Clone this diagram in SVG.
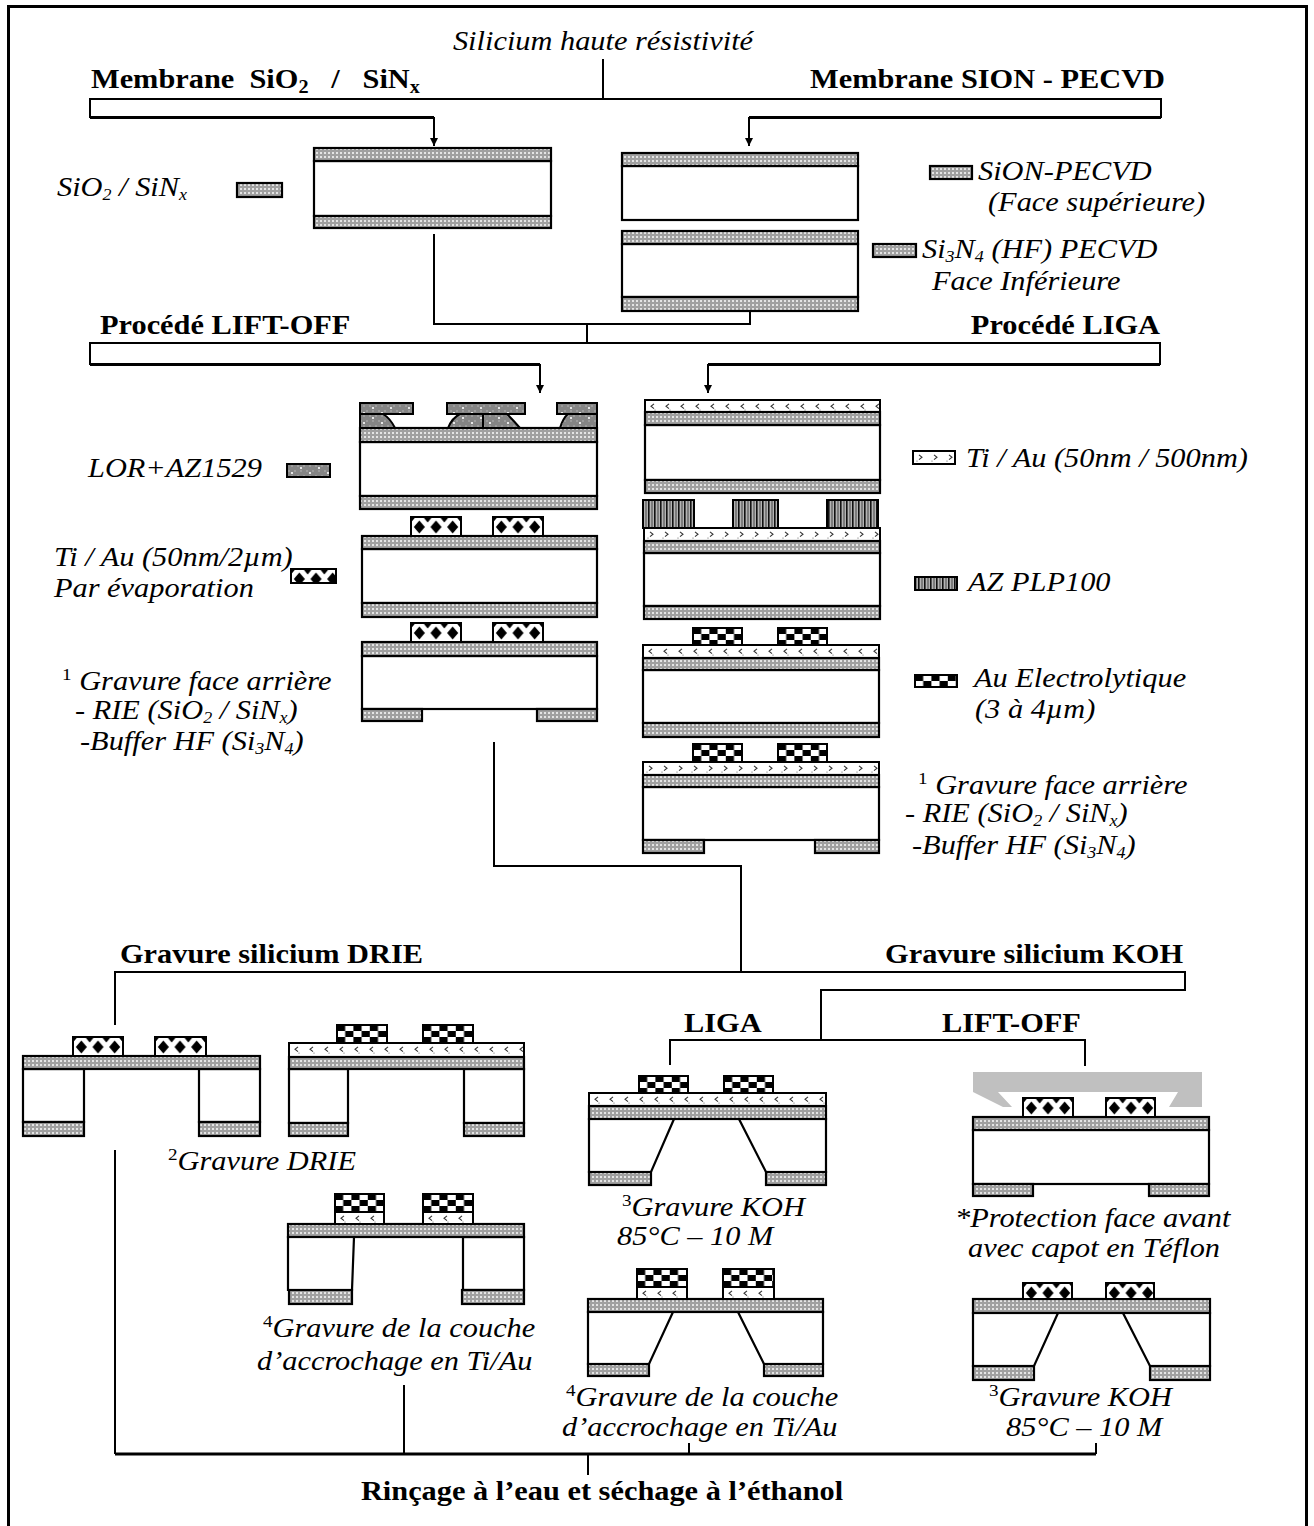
<svg xmlns="http://www.w3.org/2000/svg" width="1314" height="1526" viewBox="0 0 1314 1526">
<defs>
<pattern id="pOx" patternUnits="userSpaceOnUse" width="4" height="4"><rect width="4" height="4" fill="#a0a0a0"/><rect width="2" height="2" fill="#e4e4e4"/></pattern>
<pattern id="pLor" patternUnits="userSpaceOnUse" width="18" height="10"><rect width="18" height="10" fill="#858585"/><rect x="0" y="0" width="2" height="2" fill="#9c9c9c"/><rect x="6" y="0" width="2" height="2" fill="#9c9c9c"/><rect x="12" y="0" width="2" height="2" fill="#9c9c9c"/><rect x="3" y="5" width="2" height="2" fill="#9c9c9c"/><rect x="9" y="5" width="2" height="2" fill="#9c9c9c"/><rect x="15" y="5" width="2" height="2" fill="#9c9c9c"/><circle cx="4" cy="3" r="1.1" fill="#fff"/><circle cx="13" cy="8" r="1.1" fill="#fff"/></pattern>
<pattern id="pTiL" patternUnits="userSpaceOnUse" width="15" height="13"><rect width="15" height="13" fill="#fff"/><path d="M9,3.8 L6,6.3 L9,8.6" fill="none" stroke="#333" stroke-width="1.1"/><circle cx="10" cy="10" r="0.6" fill="#555"/></pattern>
<pattern id="pTiR" patternUnits="userSpaceOnUse" width="15" height="13"><rect width="15" height="13" fill="#fff"/><path d="M6,3.8 L9,6.3 L6,8.6" fill="none" stroke="#333" stroke-width="1.1"/><circle cx="4" cy="10" r="0.6" fill="#555"/></pattern>
<pattern id="pPlp" patternUnits="userSpaceOnUse" width="6" height="10"><rect width="6" height="10" fill="#b4b4b4"/><rect width="1.6" height="10" fill="#111"/><rect x="3.5" width="1" height="10" fill="#444"/></pattern>
<pattern id="pChk" patternUnits="userSpaceOnUse" width="16.4" height="12"><rect width="16.4" height="12" fill="#fff"/><rect width="8.2" height="6" fill="#000"/><rect x="8.2" y="6" width="8.2" height="6" fill="#000"/></pattern>
<pattern id="pDia" patternUnits="userSpaceOnUse" width="16.67" height="19"><rect width="16.67" height="19" fill="#fff"/><path d="M8.33,3.5 L13.9,10 L8.33,16.5 L2.8,10 Z" fill="#000"/><path d="M0,0 L4.5,0 L0,5.5 Z M16.67,0 L12.17,0 L16.67,5.5 Z" fill="#000"/></pattern>
<marker id="ar" viewBox="0 0 10 10" refX="10" refY="5" markerWidth="8" markerHeight="8" markerUnits="userSpaceOnUse" orient="auto"><path d="M0,0 L10,5 L0,10 Z" fill="#000"/></marker>
</defs>
<style>
.b{fill:#fff;stroke:#000;stroke-width:2.2}
.ox{fill:url(#pOx);stroke:#000;stroke-width:2.2}
.lor{fill:url(#pLor);stroke:#000;stroke-width:2}
.til{fill:url(#pTiL);stroke:#000;stroke-width:2}
.tir{fill:url(#pTiR);stroke:#000;stroke-width:2}
.plp{fill:url(#pPlp);stroke:#000;stroke-width:2}
.chk{fill:url(#pChk);stroke:#000;stroke-width:2}
.dia{fill:url(#pDia);stroke:#000;stroke-width:2}
.cap{fill:#c0c0c0}
.ln{fill:none;stroke:#000;stroke-width:2}
.lt{fill:none;stroke:#000;stroke-width:3}
.t{font-family:"Liberation Serif","Times New Roman",serif;font-size:27px;fill:#000}
.bd{font-weight:bold}
.it{font-style:italic}
.sup{font-style:normal;font-size:17px}
.sub{font-size:16px}
</style>
<rect x="8.5" y="6.5" width="1298" height="1540" fill="none" stroke="#000" stroke-width="3"/>

<g id="connectors">
<path class="ln" d="M603,59 V99"/>
<path class="ln" d="M434,117 H90 V99 H1161 V117 H749"/>
<path class="lt" d="M90,117.5 H434 M749,117.5 H1161"/>
<path class="ln" d="M434,117 V146" marker-end="url(#ar)"/>
<path class="ln" d="M749,117 V146" marker-end="url(#ar)"/>
<path class="ln" d="M434,234 V324 H750 V311"/>
<path class="ln" d="M587,324 V343"/>
<path class="ln" d="M540,364 H90 V343 H1160 V364 H708"/>
<path class="lt" d="M90,364.5 H540 M708,364.5 H1160"/>
<path class="ln" d="M540,364 V393" marker-end="url(#ar)"/>
<path class="ln" d="M708,364 V393" marker-end="url(#ar)"/>
<path class="ln" d="M494,742 V866 H741 V972"/>
<path class="ln" d="M115,1025 V972 H1185 V990 H821 V1040"/>
<path class="ln" d="M670,1065 V1040 H1085 V1066"/>
<path class="ln" d="M115,1150 V1454 M1096,1443 V1454 M404,1385 V1454 M689,1443 V1454 M588,1454 V1475"/>
<path class="lt" d="M115,1454 H1096"/>
</g>

<g id="top-labels">
<text class="t it" text-anchor="middle" transform="matrix(1.125 0 0 1 603 50)">Silicium haute résistivité</text>
<text class="t bd" xml:space="preserve" transform="matrix(1.125 0 0 1 91 88)">Membrane  SiO<tspan font-size="18" dy="5">2</tspan><tspan dy="-5">   /   SiN</tspan><tspan font-size="18" dy="5">x</tspan></text>
<text class="t bd" text-anchor="end" transform="matrix(1.125 0 0 1 1165 88)">Membrane SION - PECVD</text>
<text class="t bd" transform="matrix(1.125 0 0 1 100 334)">Procédé LIFT-OFF</text>
<text class="t bd" text-anchor="end" transform="matrix(1.125 0 0 1 1160 334)">Procédé LIGA</text>
</g>

<g id="wafer-sio2">
<rect class="b" x="314" y="161" width="237" height="55"/>
<rect class="ox" x="314" y="148" width="237" height="13"/>
<rect class="ox" x="314" y="216" width="237" height="12"/>
</g>
<g id="wafer-sion">
<rect class="b" x="622" y="166" width="236" height="54"/>
<rect class="ox" x="622" y="153" width="236" height="13"/>
</g>
<g id="wafer-si3n4">
<rect class="b" x="622" y="244" width="236" height="53"/>
<rect class="ox" x="622" y="231" width="236" height="13"/>
<rect class="ox" x="622" y="297" width="236" height="14"/>
</g>

<g id="legend-sio2">
<rect class="ox" x="237" y="183" width="45" height="14"/>
<text class="t it" xml:space="preserve" transform="matrix(1.125 0 0 1 57 196)">SiO<tspan class="sub" dy="4">2</tspan><tspan dy="-4"> / SiN</tspan><tspan class="sub" dy="4">x</tspan></text>
</g>
<g id="legend-sion">
<rect class="ox" x="930" y="166" width="42" height="13"/>
<text class="t it" transform="matrix(1.125 0 0 1 978 180)">SiON-PECVD</text>
<text class="t it" transform="matrix(1.125 0 0 1 988 211)">(Face supérieure)</text>
</g>
<g id="legend-si3n4">
<rect class="ox" x="873" y="244" width="43" height="13"/>
<text class="t it" transform="matrix(1.125 0 0 1 922 258)">Si<tspan class="sub" dy="4">3</tspan><tspan dy="-4">N</tspan><tspan class="sub" dy="4">4</tspan><tspan dy="-4"> (HF) PECVD</tspan></text>
<text class="t it" transform="matrix(1.125 0 0 1 932 290)">Face Inférieure</text>
</g>

<g id="liftoff-step1">
<rect class="b" x="360" y="442" width="237" height="54"/>
<rect class="ox" x="360" y="428" width="237" height="14"/>
<rect class="ox" x="360" y="496" width="237" height="13"/>
<path class="lor" d="M360,414 H383 Q390,418 395,428 H360 Z"/>
<path class="lor" d="M460,414 H483 V428 H448 Q452,418 460,414 Z"/>
<path class="lor" d="M483,414 H507 Q513,420 520,428 H483 Z"/>
<path class="lor" d="M568,414 H597 V428 H560 Q563,418 568,414 Z"/>
<rect class="lor" x="360" y="403" width="53" height="11"/>
<rect class="lor" x="447" y="403" width="78" height="11"/>
<rect class="lor" x="557" y="403" width="40" height="11"/>
</g>
<g id="legend-lor">
<rect class="lor" x="287" y="464" width="43" height="13"/>
<text class="t it" transform="matrix(1.125 0 0 1 88 477)">LOR+AZ1529</text>
</g>

<g id="liftoff-step2">
<rect class="b" x="362" y="549" width="235" height="54"/>
<rect class="ox" x="362" y="536" width="235" height="13"/>
<rect class="ox" x="362" y="603" width="235" height="14"/>
<rect class="dia" transform="translate(411,517)" width="50" height="19"/>
<rect class="dia" transform="translate(493,517)" width="50" height="19"/>
</g>
<g id="legend-evap">
<rect class="dia" transform="translate(291,569)" width="45" height="14"/>
<text class="t it" transform="matrix(1.125 0 0 1 54 566)">Ti / Au (50nm/2µm)</text>
<text class="t it" transform="matrix(1.125 0 0 1 54 597)">Par évaporation</text>
</g>

<g id="liftoff-step3">
<rect class="b" x="362" y="656" width="235" height="53"/>
<rect class="ox" x="362" y="642" width="235" height="14"/>
<rect class="ox" x="362" y="709" width="60" height="12"/>
<rect class="ox" x="537" y="709" width="60" height="12"/>
<rect class="dia" transform="translate(411,623)" width="50" height="19"/>
<rect class="dia" transform="translate(493,623)" width="50" height="19"/>
</g>
<g id="label-liftoff-backside">
<text class="t it" transform="matrix(1.125 0 0 1 62 690)"><tspan class="sup" dy="-10">1</tspan><tspan dy="10"> Gravure face arrière</tspan></text>
<text class="t it" xml:space="preserve" transform="matrix(1.125 0 0 1 75 719)">- RIE (SiO<tspan class="sub" dy="4">2</tspan><tspan dy="-4"> / SiN</tspan><tspan class="sub" dy="4">x</tspan><tspan dy="-4">)</tspan></text>
<text class="t it" transform="matrix(1.125 0 0 1 80 750)">-Buffer HF (Si<tspan class="sub" dy="4">3</tspan><tspan dy="-4">N</tspan><tspan class="sub" dy="4">4</tspan><tspan dy="-4">)</tspan></text>
</g>

<g id="liga-step1">
<rect class="b" x="645" y="425" width="235" height="55"/>
<rect class="til" transform="translate(645,400)" width="235" height="12"/>
<rect class="ox" x="645" y="412" width="235" height="13"/>
<rect class="ox" x="645" y="480" width="235" height="13"/>
</g>
<g id="legend-tiau">
<rect class="tir" transform="translate(913,451)" width="42" height="13"/>
<text class="t it" transform="matrix(1.125 0 0 1 966 467)">Ti / Au (50nm / 500nm)</text>
</g>

<g id="liga-step2">
<rect class="b" x="644" y="553" width="236" height="53"/>
<rect class="tir" transform="translate(644,528)" width="236" height="13"/>
<rect class="ox" x="644" y="541" width="236" height="12"/>
<rect class="ox" x="644" y="606" width="236" height="13"/>
<rect class="plp" x="643" y="500" width="51" height="28"/>
<rect class="plp" x="733" y="500" width="45" height="28"/>
<rect class="plp" x="827" y="500" width="51" height="28"/>
</g>
<g id="legend-plp">
<rect class="plp" x="915" y="577" width="42" height="13"/>
<text class="t it" transform="matrix(1.125 0 0 1 968 591)">AZ PLP100</text>
</g>

<g id="liga-step3">
<rect class="b" x="643" y="670" width="236" height="53"/>
<rect class="til" transform="translate(643,645)" width="236" height="13"/>
<rect class="ox" x="643" y="658" width="236" height="12"/>
<rect class="ox" x="643" y="723" width="236" height="14"/>
<rect class="chk" transform="translate(693,628)" width="49" height="17"/>
<rect class="chk" transform="translate(778,628)" width="49" height="17"/>
</g>
<g id="legend-au">
<rect class="chk" transform="translate(915,675)" width="42" height="12"/>
<text class="t it" transform="matrix(1.125 0 0 1 974 687)">Au Electrolytique</text>
<text class="t it" transform="matrix(1.125 0 0 1 975 718)">(3 à 4µm)</text>
</g>

<g id="liga-step4">
<rect class="b" x="643" y="787" width="236" height="53"/>
<rect class="tir" transform="translate(643,762)" width="236" height="13"/>
<rect class="ox" x="643" y="775" width="236" height="12"/>
<rect class="ox" x="643" y="840" width="61" height="13"/>
<rect class="ox" x="815" y="840" width="64" height="13"/>
<rect class="chk" transform="translate(693,744)" width="49" height="18"/>
<rect class="chk" transform="translate(778,744)" width="49" height="18"/>
</g>
<g id="label-liga-backside">
<text class="t it" transform="matrix(1.125 0 0 1 918 794)"><tspan class="sup" dy="-10">1</tspan><tspan dy="10"> Gravure face arrière</tspan></text>
<text class="t it" xml:space="preserve" transform="matrix(1.125 0 0 1 905 822)">- RIE (SiO<tspan class="sub" dy="4">2</tspan><tspan dy="-4"> / SiN</tspan><tspan class="sub" dy="4">x</tspan><tspan dy="-4">)</tspan></text>
<text class="t it" transform="matrix(1.125 0 0 1 912 854)">-Buffer HF (Si<tspan class="sub" dy="4">3</tspan><tspan dy="-4">N</tspan><tspan class="sub" dy="4">4</tspan><tspan dy="-4">)</tspan></text>
</g>

<g id="etch-labels">
<text class="t bd" transform="matrix(1.125 0 0 1 120 963)">Gravure silicium DRIE</text>
<text class="t bd" text-anchor="end" transform="matrix(1.125 0 0 1 1183 963)">Gravure silicium KOH</text>
<text class="t bd" transform="matrix(1.125 0 0 1 684 1032)">LIGA</text>
<text class="t bd" transform="matrix(1.125 0 0 1 942 1032)">LIFT-OFF</text>
</g>

<g id="drie-liftoff">
<rect class="b" x="23" y="1069" width="61" height="53"/>
<rect class="b" x="199" y="1069" width="61" height="53"/>
<rect class="ox" x="23" y="1056" width="237" height="13"/>
<rect class="ox" x="23" y="1122" width="61" height="14"/>
<rect class="ox" x="199" y="1122" width="61" height="14"/>
<rect class="dia" transform="translate(73,1037)" width="50" height="19"/>
<rect class="dia" transform="translate(155,1037)" width="51" height="19"/>
</g>

<g id="drie-liga">
<rect class="b" x="289" y="1069" width="59" height="54"/>
<rect class="b" x="464" y="1069" width="60" height="54"/>
<rect class="til" transform="translate(289,1043)" width="235" height="14"/>
<rect class="ox" x="289" y="1057" width="235" height="12"/>
<rect class="ox" x="289" y="1123" width="59" height="13"/>
<rect class="ox" x="464" y="1123" width="60" height="13"/>
<rect class="chk" transform="translate(337,1025)" width="50" height="18"/>
<rect class="chk" transform="translate(423,1025)" width="50" height="18"/>
</g>
<g id="label-drie">
<text class="t it" transform="matrix(1.125 0 0 1 168 1170)"><tspan class="sup" dy="-10">2</tspan><tspan dy="10">Gravure DRIE</tspan></text>
</g>

<g id="drie-liga-tiau-etch">
<path class="b" d="M288,1237 H354 L352,1290 H288 Z"/>
<rect class="b" x="463" y="1237" width="61" height="53"/>
<rect class="ox" x="288" y="1224" width="236" height="13"/>
<rect class="ox" x="289" y="1290" width="63" height="14"/>
<rect class="ox" x="462" y="1290" width="62" height="14"/>
<rect class="til" transform="translate(335,1212)" width="49" height="12"/>
<rect class="til" transform="translate(423,1212)" width="50" height="12"/>
<rect class="chk" transform="translate(335,1194)" width="49" height="18"/>
<rect class="chk" transform="translate(423,1194)" width="50" height="18"/>
</g>
<g id="label-drie-tiau">
<text class="t it" transform="matrix(1.125 0 0 1 263 1337)"><tspan class="sup" dy="-10">4</tspan><tspan dy="10">Gravure de la couche</tspan></text>
<text class="t it" transform="matrix(1.125 0 0 1 257 1370)">d’accrochage en Ti/Au</text>
</g>

<g id="koh-liga">
<path class="b" d="M589,1119 H674 L651,1172 H589 Z"/>
<path class="b" d="M739,1119 H826 V1172 H766 Z"/>
<rect class="til" transform="translate(589,1093)" width="237" height="13"/>
<rect class="ox" x="589" y="1106" width="237" height="13"/>
<rect class="ox" x="589" y="1172" width="62" height="13"/>
<rect class="ox" x="766" y="1172" width="60" height="13"/>
<rect class="chk" transform="translate(639,1076)" width="49" height="17"/>
<rect class="chk" transform="translate(724,1076)" width="49" height="17"/>
</g>
<g id="label-koh-liga">
<text class="t it" transform="matrix(1.125 0 0 1 622 1216)"><tspan class="sup" dy="-10">3</tspan><tspan dy="10">Gravure KOH</tspan></text>
<text class="t it" transform="matrix(1.125 0 0 1 617 1245)">85°C – 10 M</text>
</g>

<g id="koh-liftoff-teflon">
<path class="cap" d="M973,1072 H1202 V1107 H1169 L1178,1092 H998 L1012,1107 H1003 L973,1092 Z"/>
<rect class="b" x="973" y="1130" width="236" height="54"/>
<rect class="ox" x="973" y="1117" width="236" height="13"/>
<rect class="ox" x="973" y="1184" width="60" height="12"/>
<rect class="ox" x="1149" y="1184" width="60" height="12"/>
<rect class="dia" transform="translate(1023,1098)" width="50" height="19"/>
<rect class="dia" transform="translate(1106,1098)" width="49" height="19"/>
</g>
<g id="label-teflon">
<text class="t it" transform="matrix(1.125 0 0 1 955 1227)">*Protection face avant</text>
<text class="t it" transform="matrix(1.125 0 0 1 968 1257)">avec capot en Téflon</text>
</g>

<g id="koh-liga-tiau-etch">
<path class="b" d="M588,1312 H673 L649,1364 H588 Z"/>
<path class="b" d="M738,1312 H823 V1364 H764 Z"/>
<rect class="ox" x="588" y="1299" width="235" height="13"/>
<rect class="ox" x="588" y="1364" width="61" height="12"/>
<rect class="ox" x="764" y="1364" width="59" height="12"/>
<rect class="til" transform="translate(637,1287)" width="50" height="12"/>
<rect class="til" transform="translate(723,1287)" width="51" height="12"/>
<rect class="chk" transform="translate(637,1269)" width="50" height="18"/>
<rect class="chk" transform="translate(723,1269)" width="51" height="18"/>
</g>
<g id="label-koh-liga-tiau">
<text class="t it" transform="matrix(1.125 0 0 1 566 1406)"><tspan class="sup" dy="-10">4</tspan><tspan dy="10">Gravure de la couche</tspan></text>
<text class="t it" transform="matrix(1.125 0 0 1 562 1436)">d’accrochage en Ti/Au</text>
</g>

<g id="koh-liftoff">
<path class="b" d="M973,1313 H1058 L1034,1366 H973 Z"/>
<path class="b" d="M1123,1313 H1210 V1366 H1150 Z"/>
<rect class="ox" x="973" y="1299" width="237" height="14"/>
<rect class="ox" x="973" y="1366" width="61" height="14"/>
<rect class="ox" x="1150" y="1366" width="60" height="14"/>
<rect class="dia" transform="translate(1023,1283)" width="49" height="16"/>
<rect class="dia" transform="translate(1106,1283)" width="48" height="16"/>
</g>
<g id="label-koh-liftoff">
<text class="t it" transform="matrix(1.125 0 0 1 989 1406)"><tspan class="sup" dy="-10">3</tspan><tspan dy="10">Gravure KOH</tspan></text>
<text class="t it" transform="matrix(1.125 0 0 1 1006 1436)">85°C – 10 M</text>
</g>

<g id="final">
<text class="t bd" text-anchor="middle" transform="matrix(1.125 0 0 1 602 1500)">Rinçage à l’eau et séchage à l’éthanol</text>
</g>
</svg>
